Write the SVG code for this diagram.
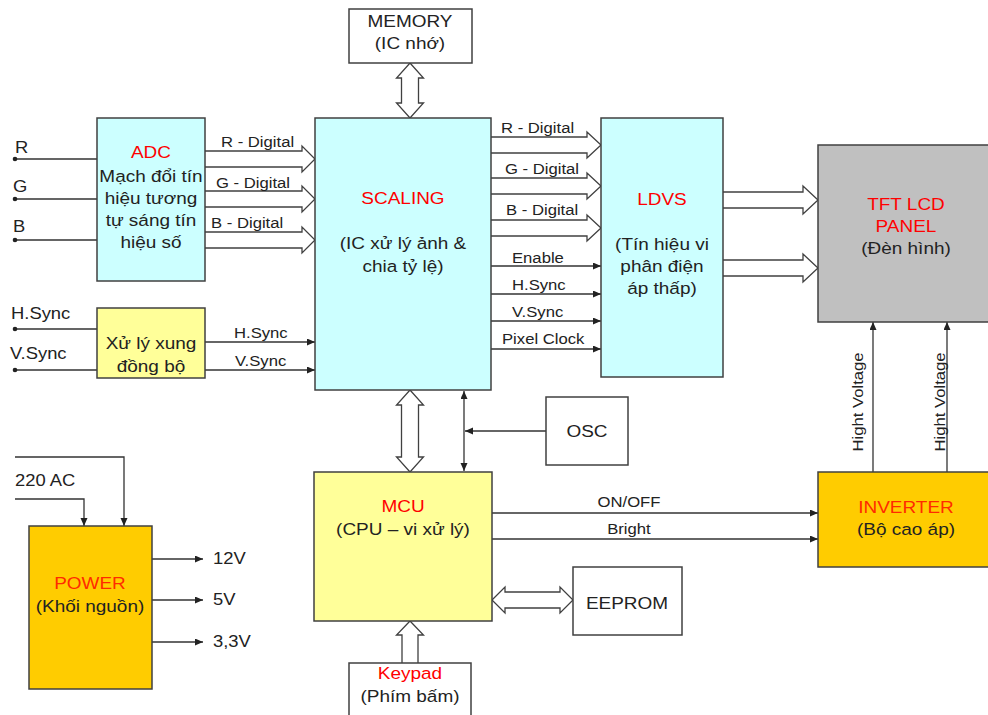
<svg xmlns="http://www.w3.org/2000/svg" width="988" height="715" viewBox="0 0 988 715">
<style>
text { font-family: "Liberation Sans", Arial, sans-serif; fill: #222; transform-box: fill-box; transform: scaleX(1.15); }
.m { text-anchor: middle; transform-origin: center; }
.l { transform-origin: left center; }
.b { font-size: 16.5px; }
.s { font-size: 14.5px; }
.i { font-size: 16px; }
.r { fill: #ff0000; }
.o { fill: #ff2a00; }
.box { stroke: #404040; stroke-width: 1.5; }
.cy { fill: #ccffff; }
.ye { fill: #ffff99; }
.gr { fill: #c0c0c0; }
.or { fill: #ffcc00; }
.wh { fill: #ffffff; }
.ln { fill: none; stroke: #333; stroke-width: 1.3; }
.ar { marker-end: url(#ah); }
.ho { fill: #ffffff; stroke: #404040; stroke-width: 1.3; stroke-linejoin: miter; }
</style>
<defs>
<marker id="ah" markerWidth="9" markerHeight="8" refX="8" refY="3.5" orient="auto-start-reverse" markerUnits="userSpaceOnUse">
<path d="M0,0 L8,3.5 L0,7 Z" fill="#222"/>
</marker>
</defs>
<rect width="988" height="715" fill="#ffffff"/>

<g id="connectors">
<!-- RGB inputs -->
<path class="ln" d="M15,159 H97 M15,199 H97 M15,240 H97 M15,329 H97 M15,370 H97"/>
<g fill="#222"><circle cx="15" cy="159" r="2.3"/><circle cx="15" cy="199" r="2.3"/><circle cx="15" cy="240" r="2.3"/><circle cx="15" cy="329" r="2.3"/><circle cx="15" cy="370" r="2.3"/></g>
<!-- ADC to SCALING hollow -->
<path class="ho" d="M205,151 H302 V146 L315,159 L302,172 V167 H205"/>
<path class="ho" d="M205,191 H302 V186 L315,199 L302,212 V207 H205"/>
<path class="ho" d="M205,232 H302 V227 L315,240 L302,253 V248 H205"/>
<!-- Sync outputs -->
<path class="ln ar" d="M205,342 H315"/>
<path class="ln ar" d="M205,370 H315"/>
<!-- SCALING to LDVS hollow -->
<path class="ho" d="M491,137 H587 V132 L601,145 L587,158 V153 H491"/>
<path class="ho" d="M491,178 H587 V173 L601,186 L587,199 V194 H491"/>
<path class="ho" d="M491,220 H587 V215 L601,228 L587,241 V236 H491"/>
<!-- thin SCALING to LDVS -->
<path class="ln ar" d="M491,266 H601"/>
<path class="ln ar" d="M491,294 H601"/>
<path class="ln ar" d="M491,321 H601"/>
<path class="ln ar" d="M491,349 H601"/>
<!-- LDVS to TFT hollow -->
<path class="ho" d="M723,192 H803 V186 L818,200 L803,214 V208 H723"/>
<path class="ho" d="M723,260 H803 V254 L818,268 L803,282 V276 H723"/>
<!-- Memory <-> SCALING -->
<path class="ho" d="M410,63 L423.5,78 H418.5 V103 H423.5 L410,118 L396.5,103 H401.5 V78 H396.5 Z"/>
<!-- SCALING <-> MCU -->
<path class="ho" d="M410,390 L423.5,405 H418.5 V457 H423.5 L410,472 L396.5,457 H401.5 V405 H396.5 Z"/>
<!-- thin double and OSC -->
<path class="ln" d="M464,391 V471" marker-start="url(#ah)" marker-end="url(#ah)"/>
<path class="ln ar" d="M546,431 H465"/>
<!-- MCU to inverter -->
<path class="ln ar" d="M492,513 H818"/>
<path class="ln ar" d="M492,539 H818"/>
<!-- MCU <-> EEPROM -->
<path class="ho" d="M492,600 L505,587 V592 H560 V587 L573,600 L560,613 V608 H505 V613 Z"/>
<!-- Keypad -> MCU -->
<path class="ho" d="M402,663 V635 H396.5 L410,621 L423.5,635 H418 V663"/>
<!-- Hight voltage -->
<path class="ln ar" d="M873,472 V322"/>
<path class="ln ar" d="M947,472 V322"/>
<!-- Power -->
<path class="ln ar" d="M15,457 H124 V526"/>
<path class="ln ar" d="M15,499 H84 V526"/>
<path class="ln ar" d="M152,559 H203"/>
<path class="ln ar" d="M152,600 H203"/>
<path class="ln ar" d="M152,642 H203"/>
</g>

<g id="labels">
<text class="i l" x="15" y="153">R</text>
<text class="i l" x="13" y="192">G</text>
<text class="i l" x="13" y="232">B</text>
<text class="i l" x="11" y="319">H.Sync</text>
<text class="i l" x="10" y="359">V.Sync</text>
<text class="s l" x="221" y="147">R - Digital</text>
<text class="s l" x="216" y="188">G - Digital</text>
<text class="s l" x="211" y="228">B - Digital</text>
<text class="s l" x="234" y="338">H.Sync</text>
<text class="s l" x="235" y="366">V.Sync</text>
<text class="s l" x="501" y="133">R - Digital</text>
<text class="s l" x="505" y="174">G - Digital</text>
<text class="s l" x="506" y="215">B - Digital</text>
<text class="s l" x="512" y="263">Enable</text>
<text class="s l" x="512" y="290">H.Sync</text>
<text class="s l" x="512" y="317">V.Sync</text>
<text class="s l" x="502" y="344">Pixel Clock</text>
<text class="s m" x="629" y="507">ON/OFF</text>
<text class="s m" x="629" y="534">Bright</text>
<g transform="translate(863,402) rotate(-90)"><text class="s m" x="0" y="0">Hight Voltage</text></g>
<g transform="translate(945,402) rotate(-90)"><text class="s m" x="0" y="0">Hight Voltage</text></g>
<text class="i l" x="15" y="486">220 AC</text>
<text class="i l" x="213" y="564">12V</text>
<text class="i l" x="213" y="605">5V</text>
<text class="i l" x="213" y="647">3,3V</text>
</g>

<g id="memory">
<rect class="box wh" x="349" y="9" width="123" height="54"/>
<text class="b m" x="410" y="27">MEMORY</text>
<text class="b m" x="410" y="49">(IC nhớ)</text>
</g>

<g id="adc">
<rect class="box cy" x="97" y="118" width="108" height="163"/>
<text class="b m r" x="151" y="158">ADC</text>
<text class="b m" x="151" y="182">Mạch đổi tín</text>
<text class="b m" x="151" y="204">hiệu tương</text>
<text class="b m" x="151" y="226">tự sáng tín</text>
<text class="b m" x="151" y="248">hiệu số</text>
</g>

<g id="sync">
<rect class="box ye" x="97" y="308" width="108" height="70"/>
<text class="b m" x="151" y="349">Xử lý xung</text>
<text class="b m" x="151" y="372">đồng bộ</text>
</g>

<g id="scaling">
<rect class="box cy" x="315" y="118" width="176" height="272"/>
<text class="b m r" x="403" y="204">SCALING</text>
<text class="b m" x="403" y="249">(IC xử lý ảnh &amp;</text>
<text class="b m" x="403" y="272">chia tỷ lệ)</text>
</g>

<g id="ldvs">
<rect class="box cy" x="601" y="118" width="122" height="259"/>
<text class="b m r" x="662" y="205">LDVS</text>
<text class="b m" x="662" y="250">(Tín hiệu vi</text>
<text class="b m" x="662" y="272">phân điện</text>
<text class="b m" x="662" y="294">áp thấp)</text>
</g>

<g id="tft">
<rect class="box gr" x="818" y="145" width="180" height="177"/>
<text class="b m r" x="906" y="210">TFT LCD</text>
<text class="b m r" x="906" y="232">PANEL</text>
<text class="b m" x="906" y="254">(Đèn hình)</text>
</g>

<g id="inverter">
<rect class="box or" x="818" y="472" width="180" height="95"/>
<text class="b m o" x="906" y="513">INVERTER</text>
<text class="b m" x="906" y="535">(Bộ cao áp)</text>
</g>

<g id="osc">
<rect class="box wh" x="546" y="397" width="82" height="68"/>
<text class="b m" x="587" y="437">OSC</text>
</g>

<g id="mcu">
<rect class="box ye" x="314" y="472" width="178" height="149"/>
<text class="b m r" x="403" y="512">MCU</text>
<text class="b m" x="403" y="535">(CPU – vi xử lý)</text>
</g>

<g id="eeprom">
<rect class="box wh" x="573" y="567" width="109" height="68"/>
<text class="b m" x="627" y="609">EEPROM</text>
</g>

<g id="keypad">
<rect class="box wh" x="349" y="663" width="122" height="60"/>
<text class="b m r" x="410" y="679">Keypad</text>
<text class="b m" x="410" y="702">(Phím bấm)</text>
</g>

<g id="power">
<rect class="box or" x="29" y="526" width="123" height="163"/>
<text class="b m o" x="90" y="589">POWER</text>
<text class="b m" x="90" y="612">(Khối nguồn)</text>
</g>
</svg>
